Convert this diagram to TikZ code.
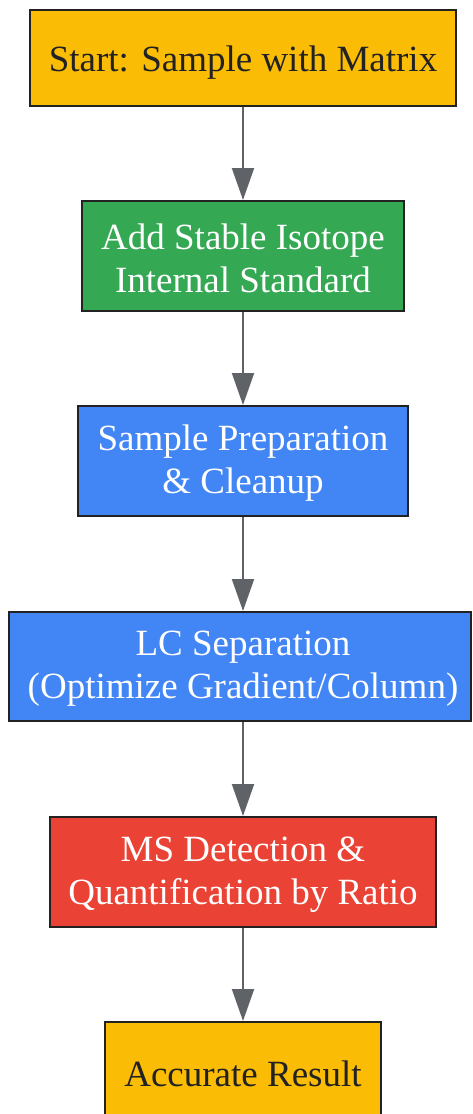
\documentclass[tikz,border=0pt]{standalone}
\usepackage{fontspec}
\setmainfont{Liberation Serif}
\usetikzlibrary{arrows.meta}
\definecolor{gyellow}{HTML}{FBBC05}
\definecolor{ggreen}{HTML}{34A853}
\definecolor{gblue}{HTML}{4285F4}
\definecolor{gred}{HTML}{EA4335}
\definecolor{edge}{HTML}{5F6368}
\definecolor{bord}{HTML}{222222}
\tikzset{
  box/.style={draw=bord, line width=2pt, rectangle, inner sep=0pt},
  txt/.style={inner sep=0pt, align=center, font=\fontsize{37pt}{43pt}\selectfont},
  darktext/.style={txt, text=bord},
  lighttext/.style={txt, text=white},
  arr/.style={draw=edge, line width=2pt, -{Triangle[width=22pt,length=32pt]}}
}
\begin{document}
\begin{tikzpicture}[x=1pt,y=1pt]
\useasboundingbox (0,0) rectangle (472,-1114);
\clip (0,0) rectangle (472,-1114);
\node[box, fill=gyellow, minimum width=426pt, minimum height=96pt] (n1) at (243,-58) {};
\node[box, fill=ggreen, minimum width=322pt, minimum height=110pt] (n2) at (243,-256) {};
\node[box, fill=gblue, minimum width=330pt, minimum height=110pt] (n3) at (243,-461) {};
\node[box, fill=gblue, minimum width=462pt, minimum height=109pt] (n4) at (240,-666.5) {};
\node[box, fill=gred, minimum width=386pt, minimum height=110pt] (n5) at (243,-872) {};
\node[box, fill=gyellow, minimum width=276pt, minimum height=96pt] (n6) at (243,-1070) {};
\node[darktext] (t1) at ([yshift=-5pt]n1.center) {Start: Sample with Matrix};
\node[lighttext] (t2) at ([yshift=-2.5pt]n2.center) {Add Stable Isotope\\Internal Standard};
\node[lighttext] (t3) at ([yshift=-2.5pt]n3.center) {Sample Preparation\\\& Cleanup};
\node[lighttext] (t4) at ([yshift=-2.5pt,xshift=3pt]n4.center) {LC Separation\\(Optimize Gradient/Column)};
\node[lighttext] (t5) at ([yshift=-2.5pt]n5.center) {MS Detection \&\\Quantification by Ratio};
\node[darktext] (t6) at ([yshift=-4pt]n6.center) {Accurate Result};
\draw[arr] (n1.south) -- (n2.north);
\draw[arr] (n2.south) -- (n3.north);
\draw[arr] (n3.south) -- (n4.north -| n3.south);
\draw[arr] (n4.south -| n3.south) -- (n5.north);
\draw[arr] (n5.south) -- (n6.north);
\end{tikzpicture}
\end{document}
